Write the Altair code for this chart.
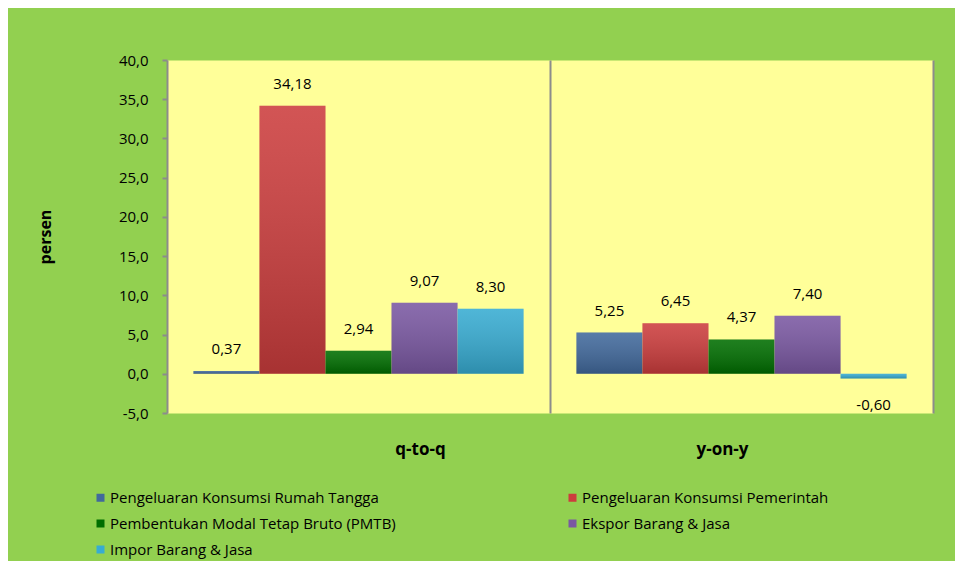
import altair as alt
import pandas as pd

groups = ["q-to-q", "y-on-y"]
series = [
    "Pengeluaran Konsumsi Rumah Tangga",
    "Pengeluaran Konsumsi Pemerintah",
    "Pembentukan Modal Tetap Bruto (PMTB)",
    "Ekspor Barang & Jasa",
    "Impor Barang & Jasa",
]
qtoq_values = [0.37, 34.18, 2.94, 9.07, 8.30]
yony_values = [5.25, 6.45, 4.37, 7.40, -0.60]
colors = ["#41699C", "#CC3D3D", "#006E00", "#7A58A2", "#37ACD2"]
y_ticks = [-5, 0, 5, 10, 15, 20, 25, 30, 35, 40]

rows = []
for g, vals in zip(groups, [qtoq_values, yony_values]):
    for s, v in zip(series, vals):
        rows.append({"group": g, "series": s, "value": v})
df = pd.DataFrame(rows)

FONT = "Open Sans"
GRAY = "#8C8C8C"

base = alt.Chart(df).transform_calculate(
    label="(datum.value < 0 ? '-' : '') + replace(format(abs(datum.value), '.2f'), '.', ',')"
)

x_enc = alt.X(
    "group:N",
    sort=groups,
    scale=alt.Scale(domain=groups, paddingInner=0, paddingOuter=0),
    axis=alt.Axis(
        title=None,
        domain=False,
        ticks=False,
        labelAngle=0,
        labelFont=FONT,
        labelFontWeight="bold",
        labelFontSize=17,
        labelColor="black",
        labelPadding=28,
        bandPosition=1,
        grid=True,
        gridColor=GRAY,
        gridWidth=2,
        labelOffset={"condition": {"test": "datum.value === 'q-to-q'", "value": 62}, "value": -19},
    ),
)
xo_enc = alt.XOffset(
    "series:N",
    sort=series,
    scale=alt.Scale(domain=series, paddingInner=0, paddingOuter=0.4),
)
y_enc = alt.Y(
    "value:Q",
    scale=alt.Scale(domain=[-5, 40], nice=False, zero=False),
    axis=alt.Axis(
        values=y_ticks,
        labelExpr="(datum.value < 0 ? '-' : '') + replace(format(abs(datum.value), '.1f'), '.', ',')",
        grid=False,
        domainColor=GRAY,
        domainWidth=2,
        tickColor=GRAY,
        tickWidth=2,
        tickSize=5,
        labelPadding=14,
        labelFont=FONT,
        labelFontSize=15,
        labelColor="black",
        title="persen",
        titleFont=FONT,
        titleFontSize=16,
        titleFontWeight="bold",
        titleColor="black",
        titlePadding=65,
    ),
)

bars = base.mark_bar().encode(
    x=x_enc,
    xOffset=xo_enc,
    y=y_enc,
    color=alt.Color(
        "series:N",
        sort=series,
        scale=alt.Scale(domain=series, range=colors),
        legend=alt.Legend(
            title=None,
            orient="none",
            direction="horizontal",
            legendX=-74,
            legendY=430,
            columns=2,
            columnPadding=169,
            rowPadding=10,
            padding=0,
            symbolType="square",
            symbolSize=64,
            symbolStrokeWidth=0,
            symbolOffset=0,
            labelOffset=2,
            labelFont=FONT,
            labelFontSize=15,
            labelColor="black",
            labelLimit=500,
        ),
    ),
)

shade = base.mark_bar(
    color=alt.Gradient(
        gradient="linear",
        stops=[
            alt.GradientStop(color="rgba(255,255,255,0.12)", offset=0),
            alt.GradientStop(color="rgba(0,0,0,0.18)", offset=1),
        ],
        x1=0, x2=0, y1=0, y2=1,
    )
).encode(x=x_enc, xOffset=xo_enc, y=y_enc)

labels_pos = base.transform_filter("datum.value >= 0").mark_text(
    dy=-22, font=FONT, fontSize=15, color="black"
).encode(x=x_enc, xOffset=xo_enc, y=y_enc, text="label:N")

labels_neg = base.transform_filter("datum.value < 0").mark_text(
    dy=27, font=FONT, fontSize=15, color="black"
).encode(x=x_enc, xOffset=xo_enc, y=y_enc, text="label:N")

chart = (
    alt.layer(bars, shade, labels_pos, labels_neg)
    .properties(
        width=766,
        height=353,
        background="#92D050",
        padding={"left": 159, "top": 52, "right": 22, "bottom": 148},
        autosize=alt.AutoSizeParams(type="none"),
    )
    .configure_view(fill="#FFFF99", stroke="transparent")
)

chart.save("out.html", embed_options={"renderer": "svg", "actions": False})
